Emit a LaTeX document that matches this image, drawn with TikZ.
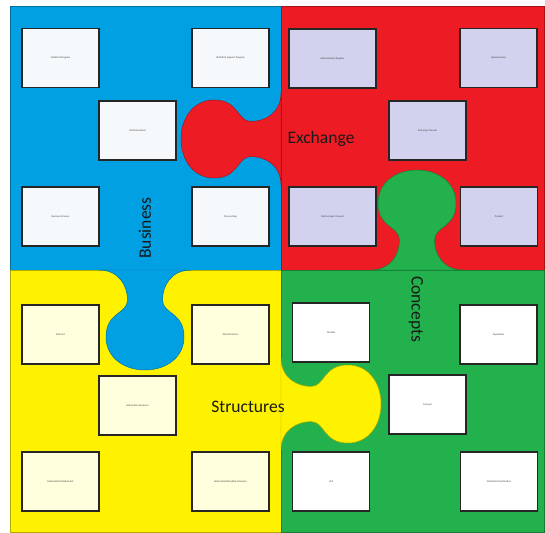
\documentclass[tikz,border=0pt]{standalone}
\usepackage{fontspec}
\setmainfont{Carlito}
\definecolor{bizblue}{RGB}{0,160,227}
\definecolor{exred}{RGB}{237,28,36}
\definecolor{strucyellow}{RGB}{255,242,0}
\definecolor{conceptgreen}{RGB}{34,177,76}
\definecolor{bizfill}{RGB}{246,249,251}
\definecolor{exfill}{RGB}{210,210,238}
\definecolor{strucfill}{RGB}{255,255,221}
\definecolor{conceptfill}{RGB}{255,255,255}

% one jigsaw tab: base x, base y, direction, colour
\newcommand{\puzzletab}[4]{%
\filldraw[fill=#4, draw=#4!70!black, line width=0.4pt, shift={(#1,#2)}, rotate=#3]
  (0,-46) .. controls (0,-26) and (16,-17.5) .. (30,-17.5)
  .. controls (44,-17.5) and (42,-39) .. (67,-39)
  .. controls (87,-39) and (100,-21.5) .. (100,0)
  .. controls (100,21.5) and (87,39) .. (67,39)
  .. controls (42,39) and (44,17.5) .. (30,17.5)
  .. controls (16,17.5) and (0,26) .. (0,46) -- cycle;
}

\begin{document}
\begin{tikzpicture}[x=0.03cm,y=-0.03cm,
  item/.style={draw=black!85, line width=1pt, inner sep=0pt,
    minimum width=2.31cm, minimum height=1.77cm, text=black!75,
    font=\fontsize{2.2}{2.6}\selectfont},
  wideitem/.style={item, minimum width=2.61cm},
  piece/.style={font=\fontsize{15}{18}\selectfont, text=black!90}]
\useasboundingbox (0,0) rectangle (545,532);

% quadrants
\filldraw[fill=bizblue, draw=bizblue!70!black, line width=0.4pt] (10,6) rectangle (281,270);
\filldraw[fill=exred, draw=exred!70!black, line width=0.4pt] (281,6) rectangle (544,270);
\filldraw[fill=strucyellow, draw=strucyellow!70!black, line width=0.4pt] (10,270) rectangle (281,532);
\filldraw[fill=conceptgreen, draw=conceptgreen!70!black, line width=0.4pt] (281,270) rectangle (544,532);

% tabs
\puzzletab{281}{139}{180}{exred}
\puzzletab{417}{270}{90}{conceptgreen}
\puzzletab{145}{270}{-90}{bizblue}
\puzzletab{281}{404}{0}{strucyellow}

% business
\node[item, fill=bizfill] (statprog) at (60.5,58) {Statistical Program};
\node[item, fill=bizfill] (statsupport) at (230.5,58) {Statistical Support Program};
\node[item, fill=bizfill] (statneed) at (137.5,130.5) {Statistical Need};
\node[item, fill=bizfill] (bizprocess) at (60.5,216.5) {Business Process};
\node[item, fill=bizfill] (processstep) at (230.5,216.5) {Process Step};

% exchange
\node[wideitem, fill=exfill] (adminreg) at (332.5,58.5) {Administrative Register};
\node[item, fill=exfill] (questionnaire) at (498.5,58) {Questionnaire};
\node[item, fill=exfill] (exchchannel) at (427.5,130.5) {Exchange Channel};
\node[wideitem, fill=exfill] (webscraper) at (332.5,216.5) {Web Scraper Channel};
\node[item, fill=exfill] (product) at (499,216.5) {Product};

% structures
\node[item, fill=strucfill] (dataset) at (60.5,334.5) {Data Set};
\node[item, fill=strucfill] (datastruct) at (230.5,334.5) {Data Structure};
\node[item, fill=strucfill] (inforesource) at (137.5,405.5) {Information Resource};
\node[item, fill=strucfill] (refmetaset) at (60.5,481.5) {Referential Metadata Set};
\node[item, fill=strucfill] (refmetastruct) at (230.5,481.5) {Referential Metadata Structure};

% concepts
\node[item, fill=conceptfill] (variable) at (331,332.5) {Variable};
\node[item, fill=conceptfill] (population) at (498.5,334.5) {Population};
\node[item, fill=conceptfill] (concept) at (427.5,404.5) {Concept};
\node[item, fill=conceptfill] (unit) at (331,481.5) {Unit};
\node[item, fill=conceptfill] (statclass) at (499,481.5) {Statistical Classification};

% piece names
\node[piece, rotate=90] (business) at (145,228) {Business};
\node[piece] (exchange) at (321,139) {Exchange};
\node[piece] (structures) at (248,407) {Structures};
\node[piece, rotate=-90] (concepts) at (416,309) {Concepts};
\end{tikzpicture}
\end{document}
